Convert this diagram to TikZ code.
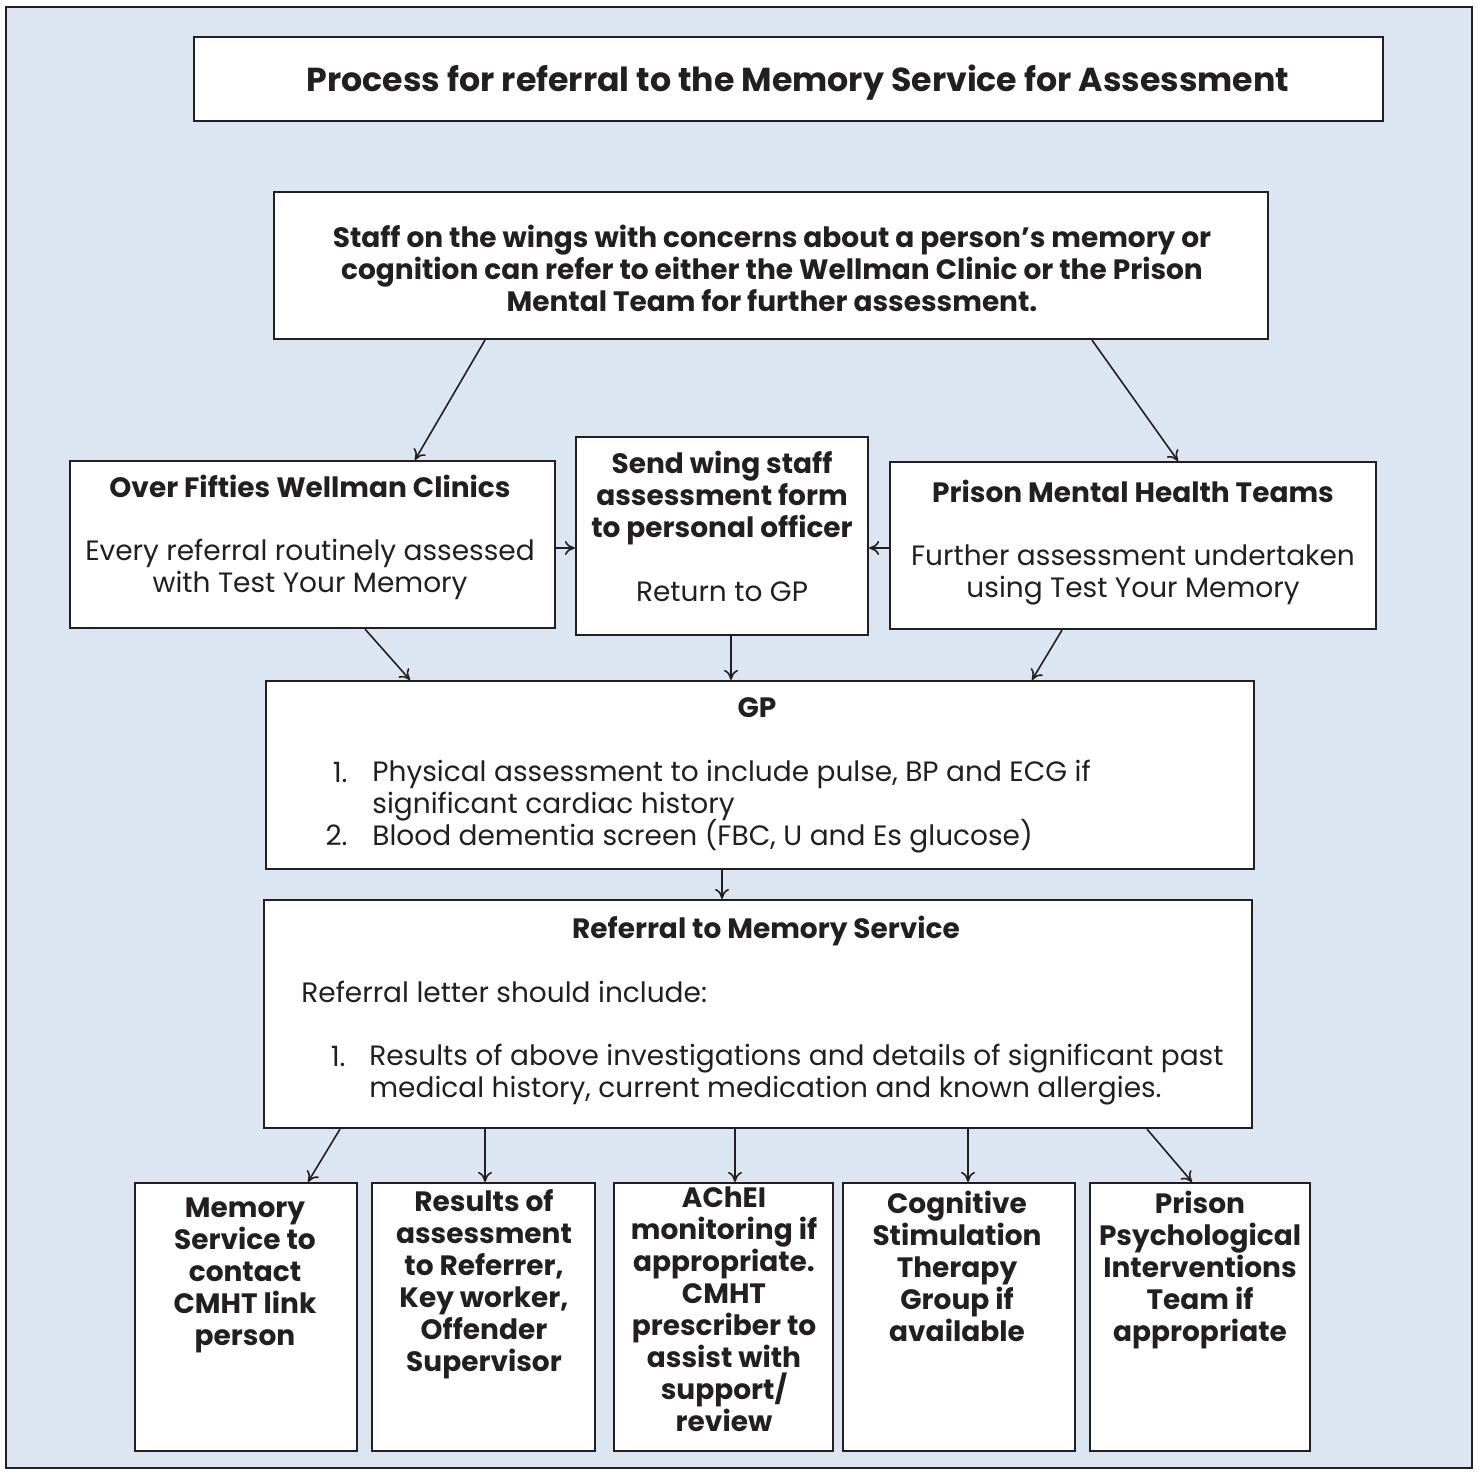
\documentclass[tikz,border=0pt]{standalone}
\usepackage{fontspec}
\setmainfont{Poppins}
\usetikzlibrary{arrows.meta,fit}
\definecolor{bgblue}{RGB}{220,230,242}
\definecolor{ink}{RGB}{35,31,32}
\begin{document}
\begin{tikzpicture}[x=0.5pt,y=-0.5pt,
  box/.style={draw=ink, fill=white, line width=1.1pt, inner sep=0pt},
  txt/.style={text=ink, inner sep=0pt, align=center, font=\fontsize{14}{16}\selectfont},
  btxt/.style={txt, font=\fontsize{14}{16}\selectfont\bfseries},
  ttxt/.style={txt, font=\fontsize{16.6}{18}\selectfont\bfseries},
  arr/.style={draw=ink, line width=0.8pt, -{To[length=5pt,width=7pt]}}]
\useasboundingbox (0,0) rectangle (1478,1472);
\draw[fill=bgblue, draw=ink, line width=1.4pt] (6,7) rectangle (1472,1468);
% boxes
\node[box, fit={(194,37)(1383,121)}] (title) {};
\node[box, fit={(274,192)(1268,339)}] (staff) {};
\node[box, fit={(70,461)(555,628)}] (of) {};
\node[box, fit={(576,437)(868,635)}] (sw) {};
\node[box, fit={(890,462)(1376,629)}] (pm) {};
\node[box, fit={(266,681)(1254,869)}] (gp) {};
\node[box, fit={(264,900)(1252,1128)}] (ref) {};
\node[box, fit={(135,1183)(357,1451)}] (b1) {};
\node[box, fit={(372,1183)(595,1451)}] (b2) {};
\node[box, fit={(614,1183)(833,1451)}] (b3) {};
\node[box, fit={(843,1183)(1075,1451)}] (b4) {};
\node[box, fit={(1090,1183)(1310,1451)}] (b5) {};
% texts
\node[ttxt, anchor=base] (titletxt) at (798,91) {Process for referral to the Memory Service for Assessment};
\node[btxt, anchor=north] (stafftxt) at (772,225) {Staff on the wings with concerns about a person’s memory or\\cognition can refer to either the Wellman Clinic or the Prison\\Mental Team for further assessment.};
\node[btxt, anchor=base] (oftitle) at (310,497) {Over Fifties Wellman Clinics};
\node[txt, anchor=north] (ofbody) at (310,539) {Every referral routinely assessed\\with Test Your Memory};
\node[btxt, anchor=north] (swtitle) at (722,451) {Send wing staff\\assessment form\\to personal officer};
\node[txt, anchor=base] (swbody) at (722,601) {Return to GP};
\node[btxt, anchor=base] (pmtitle) at (1133,502) {Prison Mental Health Teams};
\node[txt, anchor=north] (pmbody) at (1133,544) {Further assessment undertaken\\using Test Your Memory};
\node[btxt, anchor=base] (gptitle) at (757,717) {GP};
\node[txt, anchor=base east] (gpn1) at (348,782) {1.};
\node[txt, anchor=north west, align=left] (gpi1) at (372,760) {Physical assessment to include pulse, BP and ECG if\\significant cardiac history};
\node[txt, anchor=base east] (gpn2) at (348,845) {2.};
\node[txt, anchor=base west] (gpi2) at (372,845) {Blood dementia screen (FBC, U and Es glucose)};
\node[btxt, anchor=base] (reftitle) at (766,938) {Referral to Memory Service};
\node[txt, anchor=base west] (refintro) at (301,1002) {Referral letter should include:};
\node[txt, anchor=base east] (refn1) at (346,1066) {1.};
\node[txt, anchor=north west, align=left] (refi1) at (369,1044) {Results of above investigations and details of significant past\\medical history, current medication and known allergies.};
\node[btxt, anchor=north] (b1t) at (245,1197) {Memory\\Service to\\contact\\CMHT link\\person};
\node[btxt, anchor=north] (b2t) at (484,1189) {Results of\\assessment\\to Referrer,\\Key worker,\\Offender\\Supervisor};
\node[btxt, anchor=north] (b3t) at (724,1186) {AChEI\\monitoring if\\appropriate.\\CMHT\\prescriber to\\assist with\\support/\\review};
\node[btxt, anchor=north] (b4t) at (957,1191) {Cognitive\\Stimulation\\Therapy\\Group if\\available};
\node[btxt, anchor=north] (b5t) at (1200,1191) {Prison\\Psychological\\Interventions\\Team if\\appropriate};
% arrows
\draw[arr] (staff.south -| 485,0) -- (of.north -| 415,0);
\draw[arr] (staff.south -| 1092,0) -- (pm.north -| 1178,0);
\draw[arr] (of.east |- 0,548) -- (sw.west |- 0,548);
\draw[arr] (pm.west |- 0,548) -- (sw.east |- 0,548);
\draw[arr] (of.south -| 365,0) -- (gp.north -| 410,0);
\draw[arr] (sw.south -| 731,0) -- (gp.north -| 731,0);
\draw[arr] (pm.south -| 1062,0) -- (gp.north -| 1032,0);
\draw[arr] (gp.south -| 722,0) -- (ref.north -| 722,0);
\draw[arr] (ref.south -| 340,0) -- (b1.north -| 308,0);
\draw[arr] (ref.south -| 485,0) -- (b2.north -| 485,0);
\draw[arr] (ref.south -| 735,0) -- (b3.north -| 735,0);
\draw[arr] (ref.south -| 968,0) -- (b4.north -| 968,0);
\draw[arr] (ref.south -| 1147,0) -- (b5.north -| 1192,0);
\end{tikzpicture}
\end{document}
